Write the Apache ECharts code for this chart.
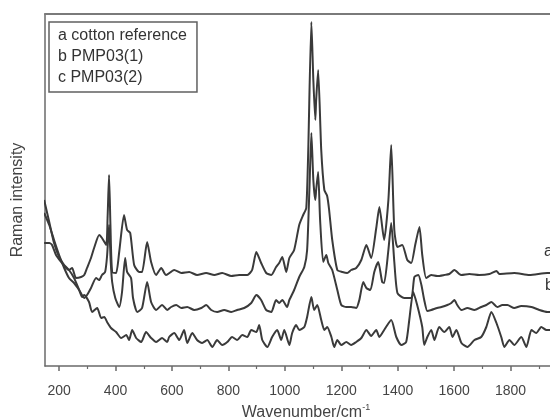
<!DOCTYPE html>
<html><head><meta charset="utf-8">
<script src="https://cdn.jsdelivr.net/npm/echarts@6/dist/echarts.min.js"></script>
<style>html,body{margin:0;padding:0;background:#fff}#c{width:550px;height:419px}</style>
</head><body><div id="c"></div>
<script>
const seriesNames = ['a cotton reference', 'b PMP03(1)', 'c PMP03(2)'];
const endTags = ['a', 'b'];

const aWave = [147,165,175,189,207,225,235,246,260,278,289,299,313,324,342,352,367,372,377,382,388,402,413,430,441,452,466,484,494,512,526,544,562,579,608,633,661,689,721,750,778,810,838,867,884,899,916,934,952,969,980,991,1005,1016,1033,1051,1065,1076,1083,1094,1101,1108,1111,1118,1129,1140,1150,1157,1168,1186,1204,1221,1235,1253,1271,1289,1306,1324,1335,1352,1367,1377,1388,1399,1416,1434,1448,1462,1477,1487,1501,1519,1540,1565,1583,1601,1618,1626,1654,1689,1725,1750,1760,1813,1867,1930,1973];
const aInt = [123,123,121,111,104,98,96,98,88,89,91,98,108,118,131,128,121,150,191,140,94,93,114,151,136,133,101,94,94,124,104,91,98,91,96,93,94,91,93,91,93,90,91,91,96,114,103,93,91,99,103,109,94,108,116,141,151,158,216,344,286,246,266,296,216,176,170,156,126,96,94,93,96,98,106,121,108,138,159,126,166,221,136,119,121,106,103,121,139,111,88,91,90,91,92,96,92,91,92,91,92,95,92,93,91,93,93];

const bWave = [147,165,182,200,218,235,253,271,289,299,313,331,342,352,363,370,377,383,388,399,413,423,434,441,455,462,477,494,512,526,544,565,583,597,615,633,654,679,704,721,739,760,785,810,831,856,881,899,916,934,952,969,980,991,1008,1016,1033,1051,1069,1079,1087,1094,1101,1108,1111,1118,1125,1136,1147,1154,1168,1186,1200,1218,1235,1253,1264,1278,1289,1303,1317,1331,1345,1352,1367,1377,1388,1399,1423,1448,1459,1473,1484,1494,1505,1519,1540,1555,1576,1590,1601,1611,1626,1647,1672,1696,1714,1732,1753,1771,1789,1813,1838,1874,1902,1930,1973];
const bInt = [153,141,126,111,98,88,83,76,68,71,78,88,86,91,94,110,141,104,84,68,59,74,108,94,88,68,54,58,84,64,56,61,56,59,61,58,59,56,58,61,56,54,56,54,56,58,63,71,66,56,54,66,63,66,59,66,76,89,99,116,176,233,186,166,176,194,146,104,111,103,96,76,61,59,59,58,66,84,78,76,94,104,84,83,116,143,104,73,68,68,89,91,81,66,55,56,58,59,61,63,66,61,56,58,56,59,61,64,59,61,61,58,60,59,56,54,54];

const cWave = [147,165,182,200,218,235,253,271,282,289,306,317,335,349,360,370,384,402,420,438,448,459,473,491,508,526,544,565,583,590,608,626,643,654,672,689,707,725,743,760,778,796,813,831,849,867,881,899,909,920,938,955,973,987,998,1016,1026,1040,1051,1069,1079,1094,1104,1115,1129,1140,1150,1165,1175,1186,1200,1218,1235,1253,1271,1289,1306,1324,1335,1352,1377,1395,1413,1430,1441,1455,1469,1487,1494,1505,1519,1530,1547,1565,1583,1594,1608,1626,1647,1672,1696,1714,1732,1750,1767,1778,1796,1813,1838,1856,1874,1891,1909,1927,1973];
const cInt = [166,144,123,109,101,96,88,76,69,71,64,54,58,48,49,44,38,34,28,31,26,36,28,24,34,28,24,28,24,29,33,26,36,23,33,26,23,26,19,26,21,24,29,26,31,29,36,34,41,26,19,29,36,26,36,21,33,41,36,39,49,69,56,61,46,36,39,29,19,26,21,24,21,24,28,36,30,36,29,36,46,29,21,24,46,74,61,39,21,29,36,26,39,34,39,29,36,23,19,26,29,39,54,43,29,19,26,21,29,19,36,33,39,36,36];

const majorTicks = [200,400,600,800,1000,1200,1400,1600,1800];
const minorTicks = [300,500,700,900,1100,1300,1500,1700,1900];

const zip = (w, v) => w.map((x, i) => [x, v[i]]);
const FONT = '"Liberation Sans", Arial, sans-serif';
const LINE = '#3a3a3a';

const chart = echarts.init(document.getElementById('c'), null, {renderer: 'canvas'});
const mkSeries = (name, w, v) => ({
  name, type: 'line', data: zip(w, v), xAxisIndex: 0, yAxisIndex: 0,
  showSymbol: false, smooth: 0.2, animation: false, clip: true,
  lineStyle: {color: LINE, width: 2}, itemStyle: {color: LINE}
});

chart.setOption({
  backgroundColor: '#ffffff',
  animation: false,
  grid: {left: 45, top: 14, height: 352, width: 522, containLabel: false, outerBoundsMode: 'none'},
  legend: {
    orient: 'vertical', left: 49, top: 22,
    data: seriesNames,
    itemWidth: 0, itemHeight: 0, itemGap: 5,
    icon: 'rect',
    borderColor: '#606060', borderWidth: 1.5, borderRadius: 0,
    padding: [6, 10, 6, 4],
    selectedMode: false,
    textStyle: {fontFamily: FONT, fontSize: 16, color: '#333'}
  },
  xAxis: [
    {
      type: 'value', min: 150, max: 2000, position: 'bottom',
      name: 'Wavenumber/cm{sup|-1}', nameLocation: 'middle', nameGap: 35,
      nameTextStyle: {fontFamily: FONT, fontSize: 16, color: '#444',
        rich: {sup: {fontSize: 9, verticalAlign: 'top', padding: [0, 0, 10, 0], fontFamily: FONT, color: '#444'}}},
      axisLine: {show: true, lineStyle: {color: '#6a6a6a', width: 1.5}},
      axisTick: {show: true, customValues: majorTicks, length: 5, lineStyle: {color: '#6a6a6a', width: 1.5}},
      axisLabel: {show: true, customValues: majorTicks, margin: 18, fontFamily: FONT, fontSize: 14, color: '#444',
        formatter: v => String(v)},
      splitLine: {show: false}
    },
    {
      type: 'value', min: 150, max: 2000, position: 'bottom',
      axisLine: {show: false},
      axisTick: {show: true, customValues: minorTicks, length: 3, lineStyle: {color: '#6a6a6a', width: 1.2}},
      axisLabel: {show: false},
      splitLine: {show: false}
    },
    {
      type: 'value', min: 150, max: 2000, position: 'top',
      axisLine: {show: true, lineStyle: {color: '#7a7a7a', width: 2}},
      axisTick: {show: false}, axisLabel: {show: false}, splitLine: {show: false}
    }
  ],
  yAxis: {
    type: 'value', min: 0, max: 352,
    name: 'Raman intensity', nameLocation: 'middle', nameGap: 19, nameRotate: 90,
    nameTextStyle: {fontFamily: FONT, fontSize: 16, color: '#444', padding: [0, 20, 0, 0]},
    axisLine: {show: true, lineStyle: {color: '#6a6a6a', width: 1.5}},
    axisTick: {show: false}, axisLabel: {show: false}, splitLine: {show: false}
  },
  series: [
    mkSeries(seriesNames[0], aWave, aInt),
    mkSeries(seriesNames[1], bWave, bInt),
    mkSeries(seriesNames[2], cWave, cInt)
  ],
  graphic: [
    {type: 'text', left: 544, top: 244, style: {text: endTags[0], font: '16px ' + FONT, fill: '#333'}},
    {type: 'text', left: 545, top: 278, style: {text: endTags[1], font: '16px ' + FONT, fill: '#333'}}
  ]
});
</script>
</body></html>
